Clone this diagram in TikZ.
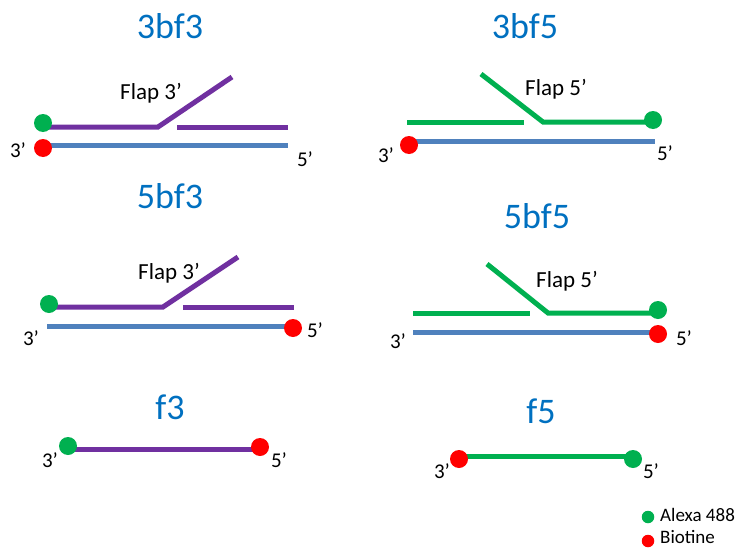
\documentclass[tikz,border=0pt]{standalone}
\usepackage{fontspec}
\setmainfont{Carlito}
\definecolor{ttl}{HTML}{0070C0}
\definecolor{pur}{HTML}{7030A0}
\definecolor{grn}{HTML}{00B050}
\definecolor{rd}{HTML}{FF0000}
\definecolor{bl}{HTML}{4F81BD}
\begin{document}
\begin{tikzpicture}[x=1pt,y=-1pt,
  title/.style={text=ttl,font=\fontsize{36}{40}\selectfont,anchor=base,inner sep=0pt},
  lbl/.style={font=\fontsize{21}{24}\selectfont,anchor=base,inner sep=0pt},
  flaplbl/.style={font=\fontsize{23}{26}\selectfont,anchor=base,inner sep=0pt},
  leglbl/.style={font=\fontsize{19}{22}\selectfont,anchor=base west,inner sep=0pt},
  strand/.style={line width=5pt},
  dot/.style={circle,fill=#1,draw=none,minimum size=18pt,inner sep=0pt},
  ldot/.style={circle,fill=#1,draw=none,minimum size=12.5pt,inner sep=0pt}]
\useasboundingbox (0,0) rectangle (737,549);

% ---------- 3bf3 ----------
\node[title] (t1) at (170,38) {3bf3};
\coordinate (p1a) at (43,127);
\coordinate (p1b) at (158,127);
\coordinate (p1c) at (232,77);
\coordinate (p1d) at (177,127);
\coordinate (p1e) at (288,127);
\coordinate (b1a) at (43,145);
\coordinate (b1b) at (288,145);
\draw[strand,pur] (p1a) -- (p1b) -- (p1c);
\draw[strand,pur] (p1d) -- (p1e);
\draw[strand,bl] (b1a) -- (b1b);
\node[dot=grn] (g1) at (43,123) {};
\node[dot=rd] (r1) at (43,148) {};
\node[lbl] (l1a) at (18,157) {3’};
\node[lbl] (l1b) at (305,166) {5’};
\node[flaplbl] (f1) at (151,99) {Flap 3’};

% ---------- 3bf5 ----------
\node[title] (t2) at (525,38) {3bf5};
\coordinate (p2a) at (481,74);
\coordinate (p2b) at (543,122);
\coordinate (p2c) at (653,122);
\coordinate (p2d) at (407,122);
\coordinate (p2e) at (524,122);
\coordinate (b2a) at (409,141);
\coordinate (b2b) at (655,141);
\draw[strand,grn] (p2a) -- (p2b) -- (p2c);
\draw[strand,grn] (p2d) -- (p2e);
\draw[strand,bl] (b2a) -- (b2b);
\node[dot=grn] (g2) at (653,120) {};
\node[dot=rd] (r2) at (409,145) {};
\node[lbl] (l2a) at (386,162) {3’};
\node[lbl] (l2b) at (665,160) {5’};
\node[flaplbl] (f2) at (556,95) {Flap 5’};

% ---------- 5bf3 ----------
\node[title] (t3) at (170,208) {5bf3};
\coordinate (p3a) at (49,307);
\coordinate (p3b) at (163,307);
\coordinate (p3c) at (238,257);
\coordinate (p3d) at (183,307);
\coordinate (p3e) at (294,307);
\coordinate (b3a) at (47,326);
\coordinate (b3b) at (293,326);
\draw[strand,pur] (p3a) -- (p3b) -- (p3c);
\draw[strand,pur] (p3d) -- (p3e);
\draw[strand,bl] (b3a) -- (b3b);
\node[dot=grn] (g3) at (49,304) {};
\node[dot=rd] (r3) at (293,328) {};
\node[lbl] (l3a) at (31,345) {3’};
\node[lbl] (l3b) at (315,337) {5’};
\node[flaplbl] (f3) at (169,279) {Flap 3’};

% ---------- 5bf5 ----------
\node[title] (t4) at (537,228) {5bf5};
\coordinate (p4a) at (487,264);
\coordinate (p4b) at (548,313);
\coordinate (p4c) at (658,313);
\coordinate (p4d) at (413,313);
\coordinate (p4e) at (530,313);
\coordinate (b4a) at (413,332);
\coordinate (b4b) at (658,332);
\draw[strand,grn] (p4a) -- (p4b) -- (p4c);
\draw[strand,grn] (p4d) -- (p4e);
\draw[strand,bl] (b4a) -- (b4b);
\node[dot=grn] (g4) at (658,310) {};
\node[dot=rd] (r4) at (658,334) {};
\node[lbl] (l4a) at (398,348) {3’};
\node[lbl] (l4b) at (684,345) {5’};
\node[flaplbl] (f4) at (567,287) {Flap 5’};

% ---------- f3 ----------
\node[title] (t5) at (170,419) {f3};
\coordinate (p5a) at (68,449);
\coordinate (p5b) at (260,449);
\draw[strand,pur] (p5a) -- (p5b);
\node[dot=grn] (g5) at (68,446) {};
\node[dot=rd] (r5) at (260,447) {};
\node[lbl] (l5a) at (50,467) {3’};
\node[lbl] (l5b) at (279,467) {5’};

% ---------- f5 ----------
\node[title] (t6) at (541,423) {f5};
\coordinate (p6a) at (459,456);
\coordinate (p6b) at (633,456);
\draw[strand,grn] (p6a) -- (p6b);
\node[dot=rd] (r6) at (459,459) {};
\node[dot=grn] (g6) at (633,459) {};
\node[lbl] (l6a) at (442,478) {3’};
\node[lbl] (l6b) at (651,478) {5’};

% ---------- legend ----------
\node[ldot=grn] (lg) at (648,517) {};
\node[ldot=rd] (lr) at (648,541) {};
\node[leglbl] (lgt) at (660,521) {Alexa 488};
\node[leglbl] (lrt) at (660,543) {Biotine};
\end{tikzpicture}
\end{document}
